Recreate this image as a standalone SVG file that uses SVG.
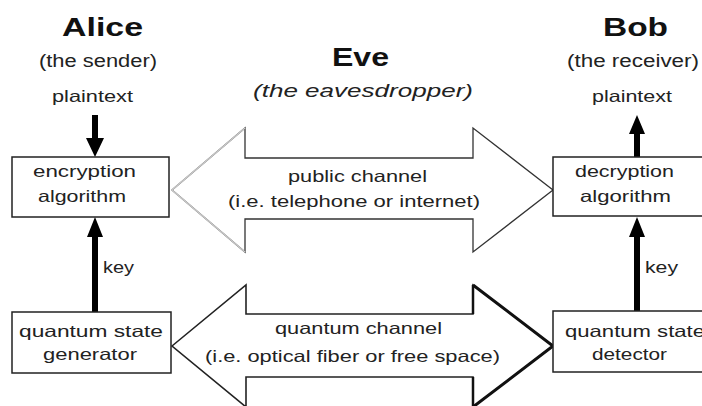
<svg xmlns="http://www.w3.org/2000/svg" width="702" height="406" viewBox="0 0 702 406">
<style>
text{font-family:"Liberation Sans",Arial,sans-serif;fill:#222;}
.title{font-weight:bold;font-size:26px;fill:#111;}
.sub{font-size:17.5px;}
.lbl{font-size:16.5px;}
.box{fill:#fff;stroke:#222;stroke-width:1.5;}
.thick{fill:#000;stroke:none;}
</style>
<rect width="702" height="406" fill="#fff"/>
<g id="alice-header">
<text class="title" x="62" y="36" textLength="81" lengthAdjust="spacingAndGlyphs">Alice</text>
<text class="sub" x="39" y="67" textLength="118" lengthAdjust="spacingAndGlyphs">(the sender)</text>
<text class="lbl" x="52" y="102" textLength="81" lengthAdjust="spacingAndGlyphs">plaintext</text>
</g>
<g id="bob-header">
<text class="title" x="603" y="36" textLength="65" lengthAdjust="spacingAndGlyphs">Bob</text>
<text class="sub" x="567" y="67" textLength="132" lengthAdjust="spacingAndGlyphs">(the receiver)</text>
<text class="lbl" x="592" y="102" textLength="80" lengthAdjust="spacingAndGlyphs">plaintext</text>
</g>
<g id="eve-header">
<text class="title" x="332" y="66" font-size="24" textLength="57" lengthAdjust="spacingAndGlyphs">Eve</text>
<text class="sub" x="253" y="97" font-style="italic" textLength="220" lengthAdjust="spacingAndGlyphs">(the eavesdropper)</text>
</g>
<g id="connectors">
<g id="public-channel">
<polygon points="172,190 245,128 245,158 473,158 473,128 553,190 473,252 473,219 245,219 245,252" fill="#fff" stroke="#333" stroke-width="1.3"/>
<polyline points="245,128 172,190 245,252" fill="none" stroke="#c8c8c8" stroke-width="1.6"/>
<text class="lbl" x="288" y="182" textLength="139" lengthAdjust="spacingAndGlyphs">public channel</text>
<text class="lbl" x="228" y="207" textLength="252" lengthAdjust="spacingAndGlyphs">(i.e. telephone or internet)</text>
</g>
<g id="quantum-channel">
<polygon points="172,346 246,285 246,314 473,314 473,285 553,346 473,407 473,377 246,377 246,407" fill="#fff" stroke="#222" stroke-width="1.6"/>
<polyline points="473,285 553,346 473,407" fill="none" stroke="#111" stroke-width="3"/>
<line x1="473" y1="285" x2="473" y2="314" stroke="#111" stroke-width="2.5"/>
<line x1="473" y1="377" x2="473" y2="407" stroke="#111" stroke-width="2.5"/>
<text class="lbl" x="275" y="334" textLength="167" lengthAdjust="spacingAndGlyphs">quantum channel</text>
<text class="lbl" x="205" y="362" textLength="295" lengthAdjust="spacingAndGlyphs">(i.e. optical fiber or free space)</text>
</g>
<path class="thick" d="M92,115 H98 V138 H104 L95,157 L86,138 H92 Z"/>
<path class="thick" d="M92,312 V237 H87 L95,217 L103,237 H98 V312 Z"/>
<text class="lbl" x="103" y="273" textLength="31" lengthAdjust="spacingAndGlyphs">key</text>
<path class="thick" d="M634,157 V134 H629 L637,115 L645,134 H640 V157 Z"/>
<path class="thick" d="M634,311 V237 H629 L637,217 L645,237 H640 V311 Z"/>
<text class="lbl" x="645" y="273" textLength="33" lengthAdjust="spacingAndGlyphs">key</text>
</g>
<g id="encryption">
<rect class="box" x="12" y="157" width="157" height="60"/>
<text class="lbl" x="33" y="177" textLength="103" lengthAdjust="spacingAndGlyphs">encryption</text>
<text class="lbl" x="38" y="202" textLength="88" lengthAdjust="spacingAndGlyphs">algorithm</text>
</g>
<g id="generator">
<rect class="box" x="12" y="312" width="159" height="61"/>
<text class="lbl" x="19" y="337" textLength="144" lengthAdjust="spacingAndGlyphs">quantum state</text>
<text class="lbl" x="43" y="360" textLength="94" lengthAdjust="spacingAndGlyphs">generator</text>
</g>
<g id="decryption">
<rect class="box" x="553" y="157" width="160" height="59"/>
<text class="lbl" x="575" y="177" textLength="99" lengthAdjust="spacingAndGlyphs">decryption</text>
<text class="lbl" x="580" y="202" textLength="91" lengthAdjust="spacingAndGlyphs">algorithm</text>
</g>
<g id="detector">
<rect class="box" x="553" y="311" width="160" height="61"/>
<text class="lbl" x="565" y="337" textLength="140" lengthAdjust="spacingAndGlyphs">quantum state</text>
<text class="lbl" x="592" y="360" textLength="75" lengthAdjust="spacingAndGlyphs">detector</text>
</g>
</svg>
